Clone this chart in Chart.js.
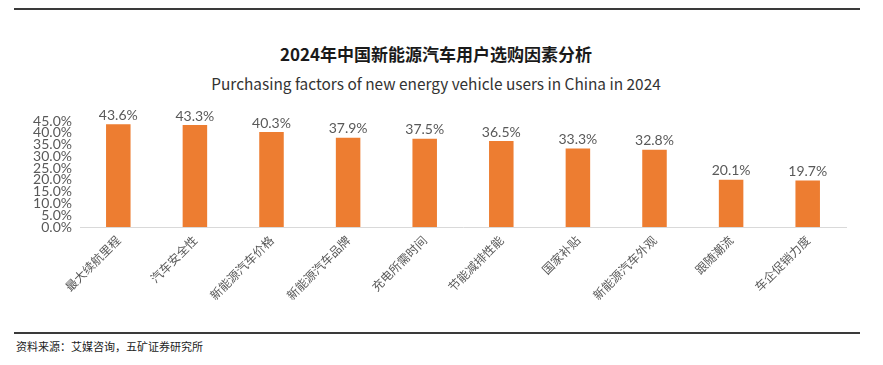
<!DOCTYPE html>
<html><head><meta charset="utf-8">
<script src="https://cdn.jsdelivr.net/npm/chart.js@4/dist/chart.umd.min.js"></script>
<style>
html,body{margin:0;padding:0;background:#fff;width:883px;height:365px;overflow:hidden;position:relative;font-family:"Noto Sans CJK SC",sans-serif;}
#topline{position:absolute;left:14px;top:8px;width:846px;height:2px;background:#3a3a3a;}
#botline{position:absolute;left:14px;top:332px;width:846px;height:2px;background:#3a3a3a;}
#title{position:absolute;left:0;width:872px;top:41px;text-align:center;font-size:17px;font-weight:bold;color:#1a1a1a;}
#subtitle{position:absolute;left:0;width:872px;top:72px;text-align:center;font-size:15.4px;color:#333;}
#source{position:absolute;left:16px;top:338px;font-size:11px;color:#222;}
#wrap{position:absolute;left:0;top:0;width:883px;height:310px;}
</style></head>
<body>
<div id="topline"></div>
<div id="title">2024年中国新能源汽车用户选购因素分析</div>
<div id="subtitle">Purchasing factors of new energy vehicle users in China in 2024</div>
<div id="wrap"><canvas id="c"></canvas></div>
<div id="botline"></div>
<div id="source">资料来源：艾媒咨询，五矿证券研究所</div>
<script>
const categories = ["最大续航里程","汽车安全性","新能源汽车价格","新能源汽车品牌","充电所需时间","节能减排性能","国家补贴","新能源汽车外观","跟随潮流","车企促销力度"];
const values = [43.6,43.3,40.3,37.9,37.5,36.5,33.3,32.8,20.1,19.7];
const yTicks = [0,5,10,15,20,25,30,35,40,45];

const labelPlugin = {
  id:'valLabels',
  afterDatasetsDraw(chart){
    const ctx = chart.ctx;
    const meta = chart.getDatasetMeta(0);
    ctx.save();
    ctx.font = '14px Lato, "Open Sans", sans-serif';
    ctx.fillStyle = '#595959';
    ctx.textAlign = 'center';
    ctx.textBaseline = 'bottom';
    meta.data.forEach((bar,i)=>{
      ctx.fillText(values[i].toFixed(1)+'%', bar.x, bar.y-2);
    });
    ctx.restore();
  }
};

new Chart(document.getElementById('c'),{
  type:'bar',
  data:{labels:categories,datasets:[{data:values,backgroundColor:'#ED7D31',barPercentage:0.32,categoryPercentage:1}]},
  options:{
    responsive:true,maintainAspectRatio:false,animation:false,
    layout:{padding:{left:0,right:37,top:121,bottom:0}},
    plugins:{legend:{display:false},tooltip:{enabled:false}},
    scales:{
      x:{
        grid:{display:false,drawTicks:false},
        border:{display:true,color:'#d9d9d9',width:1},
        ticks:{maxRotation:45,minRotation:45,autoSkip:false,color:'#595959',padding:6,font:{family:'"Noto Sans CJK SC"',size:12}},
        afterFit(s){s.height=83;}
      },
      y:{
        min:0,max:45,
        grid:{display:false,drawTicks:false},
        border:{display:false},
        afterBuildTicks(s){s.ticks=yTicks.map(v=>({value:v}));},
        ticks:{autoSkip:false,color:'#595959',padding:8,font:{family:'Lato, "Open Sans", sans-serif',size:14},callback:v=>v.toFixed(1)+'%'},
        afterFit(s){s.width=80;}
      }
    }
  },
  plugins:[labelPlugin]
});
</script>
</body></html>
